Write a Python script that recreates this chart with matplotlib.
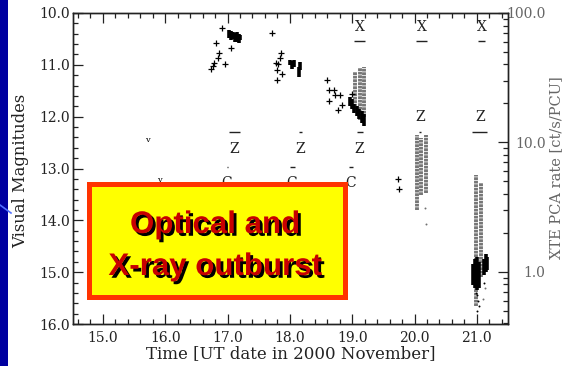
import numpy as np
import matplotlib
matplotlib.use("Agg")
import matplotlib.pyplot as plt
import matplotlib.patches as mpatches
import matplotlib.patheffects as pe
from matplotlib.ticker import MultipleLocator, FixedLocator, FuncFormatter

# visual "+" estimates (day of Nov 2000, magnitude)
vis_t = [16.74, 16.77, 16.79, 16.85, 16.87, 16.81, 16.91, 16.96, 17.06,
         17.72, 17.78, 17.79, 17.79, 17.81, 17.84, 17.86, 17.87,
         18.59, 18.63, 18.70, 18.72, 18.80, 18.63, 18.83, 18.77, 18.99,
         19.74, 19.75]
vis_mag = [11.08, 11.02, 10.97, 10.87, 10.78, 10.58, 10.28, 10.99, 10.68,
           10.38, 10.97, 11.10, 11.29, 10.99, 10.87, 10.78, 11.18,
           11.29, 11.49, 11.49, 11.58, 11.58, 11.69, 11.78, 11.88, 11.57,
           13.20, 13.40]

# upper limits ("v")
lim_t = [15.72, 15.91]
lim_mag = [12.45, 13.22]

# dense CCD photometry, one column per time: bright and faint end
ccd_t = [17.03, 17.06, 17.09, 17.12, 17.15, 17.18, 17.20,
         18.00, 18.03, 18.06, 18.14, 18.16,
         18.96, 18.99, 19.03, 19.07, 19.11, 19.15, 19.19,
         20.94, 20.97, 21.00, 21.03, 21.11, 21.14, 21.17]
ccd_bright = [10.32, 10.35, 10.36, 10.38, 10.36, 10.40, 10.42,
              10.90, 10.92, 10.90, 11.05, 10.94,
              11.62, 11.66, 11.75, 11.80, 11.85, 11.90, 11.95,
              14.85, 14.75, 14.70, 14.80, 14.75, 14.65, 14.70]
ccd_faint = [10.48, 10.52, 10.50, 10.55, 10.56, 10.58, 10.52,
             11.00, 11.08, 11.05, 11.23, 11.10,
             11.80, 11.85, 11.92, 11.98, 12.05, 12.12, 12.18,
             15.25, 15.30, 15.35, 15.30, 15.05, 15.00, 14.95]
ccd_dot_t = [20.99, 21.00, 21.02, 21.04, 21.01, 21.12]
ccd_dot_mag = [15.40, 15.45, 15.55, 15.65, 15.75, 15.20]

# XTE PCA rate columns [ct/s/PCU]
xte_t = [19.04, 19.12, 19.19, 20.04, 20.11, 20.18, 20.99, 21.06]
xte_lo = [17.8, 14.9, 15.7, 3.0, 3.94, 4.07, 0.54, 0.91]
xte_hi = [35.2, 37.6, 38.3, 11.4, 10.8, 11.4, 5.6, 4.87]
xte_dot_t = [20.18, 20.17, 21.10, 21.13]
xte_dot_rate = [2.35, 3.12, 0.62, 0.75]

# observation labels and their time bars
lab_text = ["X", "X", "X", "Z", "Z", "Z", "Z", "Z", "C", "C", "C"]
lab_t = [19.12, 20.11, 21.08, 20.09, 21.05, 17.11, 18.16, 19.12, 16.99, 18.03, 18.98]
lab_mag = [10.27, 10.27, 10.27, 12.00, 12.00, 12.63, 12.63, 12.63, 13.28, 13.28, 13.28]
bar_t0 = [19.03, 20.03, 21.02, 20.07, 20.93, 17.03, 18.15, 19.07, 16.99, 18.00, 18.95]
bar_t1 = [19.20, 20.20, 21.13, 20.10, 21.17, 17.20, 18.20, 19.17, 17.01, 18.08, 19.02]
bar_mag = [10.54, 10.54, 10.54, 12.29, 12.29, 12.29, 12.29, 12.29, 12.97, 12.97, 12.97]

W, H = 563, 366
fig = plt.figure(figsize=(W / 100, H / 100), dpi=100)
fig.patch.set_facecolor("white")

# slide decoration on the left
fig.patches.append(mpatches.Rectangle((0, 0), 8 / W, 1, transform=fig.transFigure,
                                      facecolor="#0000a0", edgecolor="none"))
fig.lines.append(plt.Line2D([0, 11 / W], [1 - 205 / H, 1 - 213 / H],
                            transform=fig.transFigure, color="#5070ff", lw=1.2))

serif = "DejaVu Serif"
dark = "#222222"
ax = fig.add_axes([73 / W, 1 - 324 / H, (508 - 73) / W, (324 - 13) / H])
ax.set_xlim(14.52, 21.5)
ax.set_ylim(16.0, 10.0)

ax2 = ax.twinx()
ax2.set_yscale("log")
ax2.set_ylim(0.395, 100)
ax2.vlines(xte_t, xte_lo, xte_hi, colors="#767676", lw=2.8,
           linestyles=(0, (0.7, 0.2)))
ax2.scatter(xte_dot_t, xte_dot_rate, s=2, color="#707070", lw=0)

ax.vlines(ccd_t, ccd_bright, ccd_faint, colors="black", lw=2.6, zorder=3)
ax.scatter(ccd_dot_t, ccd_dot_mag, s=2, color="black", lw=0, zorder=3)
ax.scatter(vis_t, vis_mag, marker="+", s=22, color="black", lw=0.9, zorder=3)
for t, m in zip(lim_t, lim_mag):
    ax.text(t, m, "v", fontsize=6, family=serif, ha="center", va="center")
for s, t, m in zip(lab_text, lab_t, lab_mag):
    ax.text(t, m, s, fontsize=10, family=serif, ha="center", va="center", color=dark)
ax.hlines(bar_mag, bar_t0, bar_t1, colors=dark, lw=1.0)

ax.set_zorder(ax2.get_zorder() + 1)
ax.patch.set_visible(False)

fmt = FuncFormatter(lambda v, p: f"{v:.1f}")
ax.xaxis.set_major_locator(MultipleLocator(1.0))
ax.xaxis.set_minor_locator(MultipleLocator(0.2))
ax.yaxis.set_major_locator(MultipleLocator(1.0))
ax.yaxis.set_minor_locator(MultipleLocator(0.2))
ax.xaxis.set_major_formatter(fmt)
ax.yaxis.set_major_formatter(fmt)
ax.tick_params(which="both", direction="in", top=True, right=False, color=dark,
               width=0.9, labelsize=10, labelcolor=dark)
ax.tick_params(which="major", length=7)
ax.tick_params(which="minor", length=3.5)
ax.tick_params(axis="y", pad=2)
ax.tick_params(axis="x", pad=5)
for lbl in ax.get_xticklabels() + ax.get_yticklabels():
    lbl.set_family(serif)

ax2.yaxis.set_major_locator(FixedLocator([1.0, 10.0, 100.0]))
ax2.yaxis.set_major_formatter(fmt)
ax2.tick_params(which="both", direction="in", color=dark, width=0.9,
                labelsize=10, labelcolor="#666666", pad=27)
ax2.tick_params(which="major", length=7)
ax2.tick_params(which="minor", length=3.5)
for lbl in ax2.get_yticklabels():
    lbl.set_family(serif)
    lbl.set_horizontalalignment("right")

for a in (ax, ax2):
    for sp in a.spines.values():
        sp.set_color(dark)
        sp.set_linewidth(1.0)

ax.set_xlabel("Time [UT date in 2000 November]", family=serif, fontsize=12,
              color=dark, labelpad=0)
fig.text(21 / W, 1 - 171 / H, "Visual Magnitudes", family=serif, fontsize=11.8,
         rotation=90, ha="center", va="center", color=dark)
fig.text(556 / W, 1 - 168 / H, "XTE PCA rate [ct/s/PCU]", family=serif, fontsize=10.5,
         rotation=90, ha="center", va="center", color="#666666")

# highlighted caption box
box = mpatches.Rectangle((89.5 / W, 1 - 296.5 / H), 255 / W, 113 / H,
                         transform=fig.transFigure, facecolor="#ffff00",
                         edgecolor="#ff3300", lw=3.6, zorder=10)
fig.patches.append(box)
shadow = [pe.withSimplePatchShadow(offset=(2.0, -2.0), shadow_rgbFace="black", alpha=1.0)]
bold = ["Liberation Sans Narrow", "Liberation Sans", "DejaVu Sans"]
for txt, y in (("Optical and", 233), ("X-ray outburst", 275)):
    fig.text(215 / W, 1 - y / H, txt, family=bold, fontweight="bold", fontsize=22.5,
             color="#c80000", ha="center", va="baseline", zorder=11,
             path_effects=shadow)

fig.savefig("out.png", dpi=100)
